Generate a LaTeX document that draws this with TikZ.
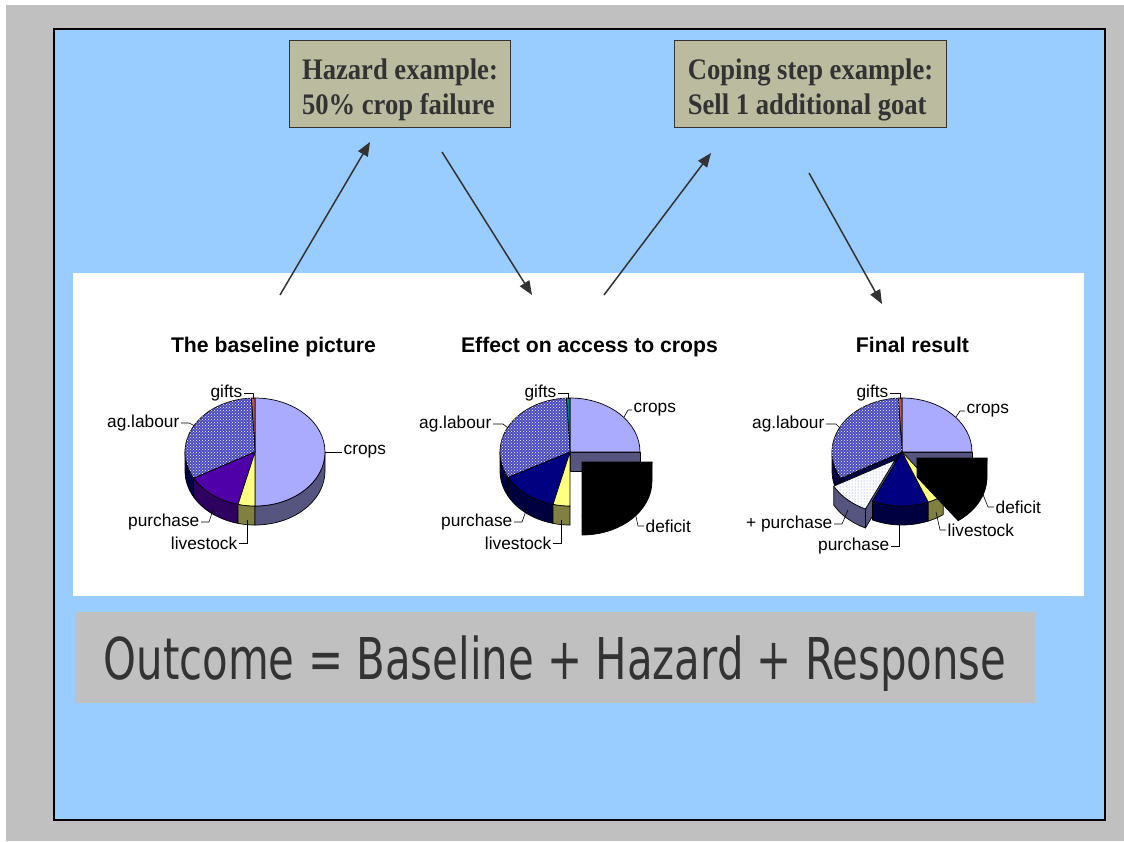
\documentclass[tikz,border=0pt]{standalone}
\usepackage{fontspec}
\setmainfont{Liberation Sans}
\newfontfamily\boxfont[FakeStretch=0.893]{Liberation Serif}
\newfontfamily\eqfont{DejaVu Sans}
\usetikzlibrary{arrows.meta, patterns, positioning}
\definecolor{slideblue}{HTML}{99CCFF}
\definecolor{pagegray}{HTML}{C0C0C0}
\definecolor{boxkhaki}{HTML}{BBBBA0}
\definecolor{inkgray}{HTML}{333333}
\definecolor{croptop}{HTML}{AAAAFF}
\definecolor{cropside}{HTML}{555580}
\definecolor{livtop}{HTML}{FFFF80}
\definecolor{livside}{HTML}{808040}
\definecolor{purptop}{HTML}{5000A8}
\definecolor{purpside}{HTML}{2E0060}
\definecolor{navytop}{HTML}{000080}
\definecolor{navyside}{HTML}{000040}
\definecolor{agblue}{HTML}{4A4AC0}
\definecolor{giftred}{HTML}{C05A50}
\definecolor{giftteal}{HTML}{008080}
\newcommand{\pietop}[4]{\path[slice,#4] (#1) -- ++(#2:70pt and 54pt)
  arc[start angle=#2, end angle=#3, x radius=70pt, y radius=54pt] -- cycle;}
\newcommand{\piewall}[4]{\path[slice,#4] (#1) ++(#2:70pt and 54pt)
  arc[start angle=#2, end angle=#3, x radius=70pt, y radius=54pt] -- ++(0,-19)
  arc[start angle=#3, end angle=#2, x radius=70pt, y radius=54pt] -- cycle;}
\newcommand{\pieface}[3]{\path[slice,#3] (#1) -- ++(#2:70pt and 54pt) -- ++(0,-19)
  -- ++(#2+180:70pt and 54pt) -- cycle;}
\newcommand{\boxstrut}{\rule{0pt}{33pt}}
\tikzset{
	slice/.style={draw=black, line width=0.7pt, line join=round}
}
\tikzset{
	agtop/.style={fill=agblue, postaction={pattern=crosshatch dots, pattern color=white}},
	extratop/.style={fill=white, postaction={pattern=dots, pattern color=blue!55}}
}
\tikzset{
	pielabel/.style={font=\fontsize{17.3}{20}\selectfont, inner sep=0pt, inner xsep=1.5pt},
	leader/.style={draw=black, line width=0.6pt},
	charttitle/.style={font=\bfseries\fontsize{21.2}{24}\selectfont, anchor=base}
}
\tikzset{
	notebox/.style={draw=inkgray, line width=1pt, fill=boxkhaki, text=inkgray, align=left,
			font=\boxfont\bfseries\fontsize{29.8}{35}\selectfont, inner xsep=13pt, minimum height=87pt},
	eqbox/.style={fill=pagegray, text=inkgray, minimum width=960pt, minimum height=91pt,
			text height=44pt, text depth=0pt, font=\eqfont\fontsize{57.6}{60}\selectfont},
	flowarrow/.style={draw=inkgray, line width=1.5pt, -{Triangle[length=14pt,width=11pt]}}
}
\begin{document}
\begin{tikzpicture}[x=1pt,y=1pt]

			\useasboundingbox (0,0) rectangle (1124,-841);
			\fill[white] (0,0) rectangle (1124,-841);
			\fill[pagegray] (6,-5) rectangle (1124,-841);
			\draw[line width=2pt, fill=slideblue] (54,-29) rectangle (1105,-820);
			\fill[white] (73,-273) rectangle (1084,-596);

			\node[notebox] (hazard) at (400,-83.5) {\boxstrut Hazard example:\\50\% crop failure};
			\node[notebox] (coping) at (810.5,-83.5) {\boxstrut Coping step example:\\Sell 1 additional goat};

			\node[charttitle] (t1) at (273.5,-352) {The baseline picture};
			\node[charttitle] (t2) at (589.5,-352) {Effect on access to crops};
			\node[charttitle] (t3) at (912.5,-352) {Final result};

			\node[eqbox] (outcome) at (555,-657.5) {\scalebox{0.727}[1]{Outcome = Baseline + Hazard + Response}};

			\begin{scope}
				\coordinate (baseup) at (280,-295);
				\coordinate (hazardin) at (370,-142);
				\coordinate (hazardout) at (442,-152);
				\coordinate (effectin) at (532,-295);
				\coordinate (effectup) at (604,-295);
				\coordinate (copein) at (711,-153);
				\coordinate (copeout) at (809,-173);
				\coordinate (finalin) at (882,-304);

				\draw[flowarrow] (baseup) -- (hazardin);
				\draw[flowarrow] (hazardout) -- (effectin);
				\draw[flowarrow] (effectup) -- (copein);
				\draw[flowarrow] (copeout) -- (finalin);
			\end{scope}

			\begin{scope}
				\coordinate (bc) at (255,-452);

				\piewall{bc}{180}{209}{fill=navyside}
				\piewall{bc}{209}{256}{fill=purpside}
				\piewall{bc}{256}{270}{fill=livside}
				\piewall{bc}{270}{360}{fill=cropside}
				\pietop{bc}{-90}{90}{fill=croptop}
				\pietop{bc}{90}{93}{fill=giftred}
				\pietop{bc}{93}{209}{agtop}
				\pietop{bc}{209}{256}{fill=purptop}
				\pietop{bc}{256}{270}{fill=livtop}

				\coordinate (bgiftsp) at (253,-399);
				\coordinate (bagp) at (195,-426);
				\coordinate (bcropsp) at (325,-452);
				\coordinate (bpurchp) at (213,-510);
				\coordinate (blivp) at (247,-520);

				\node[pielabel, anchor=east] (bgifts) at (244,-393) {gifts};
				\node[pielabel, anchor=east] (bag) at (181,-423) {ag.labour};
				\node[pielabel, anchor=west] (bcrops) at (342,-452) {crops};
				\node[pielabel, anchor=east] (bpurch) at (201,-522) {purchase};
				\node[pielabel, anchor=east] (bliv) at (239,-543) {livestock};

				\draw[leader] (bgifts.east) -| (bgiftsp);
				\draw[leader] (bag.east) -- ++(8,0) -- (bagp);
				\draw[leader] (bcropsp) -- (bcrops.west);
				\draw[leader] (bpurch.east) -- ++(8,0) -- (bpurchp);
				\draw[leader] (bliv.east) -| (blivp);
			\end{scope}

			\begin{scope}
				\coordinate (mc) at (570,-452);
				\coordinate (md) at (582,-462);

				\piewall{mc}{180}{208}{fill=navyside}
				\piewall{mc}{208}{256}{fill=navyside}
				\piewall{mc}{256}{270}{fill=livside}
				\pieface{mc}{0}{fill=cropside}
				\pietop{mc}{0}{90}{fill=croptop}
				\pietop{mc}{90}{93}{fill=giftteal}
				\pietop{mc}{93}{208}{agtop}
				\pietop{mc}{208}{256}{fill=navytop}
				\pietop{mc}{256}{270}{fill=livtop}
				\piewall{md}{270}{360}{fill=black}
				\pietop{md}{270}{360}{fill=black}

				\coordinate (mgiftsp) at (568,-399);
				\coordinate (magp) at (508,-428);
				\coordinate (mcropsp) at (624,-417);
				\coordinate (mpurchp) at (527,-508);
				\coordinate (mlivp) at (561,-520);
				\coordinate (mdefp) at (635,-512);

				\node[pielabel, anchor=east] (mgifts) at (558,-393) {gifts};
				\node[pielabel, anchor=east] (mag) at (493,-424) {ag.labour};
				\node[pielabel, anchor=west] (mcrops) at (632,-410) {crops};
				\node[pielabel, anchor=east] (mpurch) at (514,-522) {purchase};
				\node[pielabel, anchor=east] (mliv) at (553,-543) {livestock};
				\node[pielabel, anchor=west] (mdef) at (644,-526) {deficit};

				\draw[leader] (mgifts.east) -| (mgiftsp);
				\draw[leader] (mag.east) -- ++(10,0) -- (magp);
				\draw[leader] (mcropsp) -- ++(4,7) -- (mcrops.west);
				\draw[leader] (mpurch.east) -- ++(8,0) -- (mpurchp);
				\draw[leader] (mliv.east) -| (mlivp);
				\draw[leader] (mdef.west) -- ++(-6,0) -- (mdefp);
			\end{scope}

			\begin{scope}
				\coordinate (rc) at (902,-452);
				\coordinate (rp) at (895,-460);
				\coordinate (rd) at (917,-458);

				\piewall{rc}{180}{209}{fill=navyside}
				\pieface{rc}{209}{fill=navyside}
				\pieface{rc}{0}{fill=cropside}
				\pietop{rc}{0}{90}{fill=croptop}
				\pietop{rc}{90}{93}{fill=giftred}
				\pietop{rc}{93}{209}{agtop}
				\piewall{rp}{209}{245}{fill=cropside}
				\pieface{rp}{245}{fill=cropside}
				\pietop{rp}{209}{245}{extratop}
				\piewall{rc}{245}{292}{fill=navyside}
				\pietop{rc}{245}{292}{fill=navytop}
				\piewall{rc}{292}{306}{fill=livside}
				\pietop{rc}{292}{306}{fill=livtop}
				\pieface{rd}{306}{fill=black}
				\piewall{rd}{306}{360}{fill=black}
				\pietop{rd}{306}{360}{fill=black}

				\coordinate (rgiftsp) at (900,-399);
				\coordinate (ragp) at (840,-428);
				\coordinate (rcropsp) at (956,-417);
				\coordinate (rextrap) at (848,-510);
				\coordinate (rpurchp) at (899,-520);
				\coordinate (rlivp) at (936,-512);
				\coordinate (rdefp) at (982,-492);

				\node[pielabel, anchor=east] (rgifts) at (890,-393) {gifts};
				\node[pielabel, anchor=east] (rag) at (826,-424) {ag.labour};
				\node[pielabel, anchor=west] (rcrops) at (965,-411) {crops};
				\node[pielabel, anchor=east] (rextra) at (834,-524) {+ purchase};
				\node[pielabel, anchor=east] (rpurch) at (891,-546) {purchase};
				\node[pielabel, anchor=west] (rliv) at (946,-530) {livestock};
				\node[pielabel, anchor=west] (rdef) at (994,-507) {deficit};

				\draw[leader] (rgifts.east) -| (rgiftsp);
				\draw[leader] (rag.east) -- ++(10,0) -- (ragp);
				\draw[leader] (rcropsp) -- ++(4,6) -- (rcrops.west);
				\draw[leader] (rextra.east) -- ++(8,0) -- (rextrap);
				\draw[leader] (rpurch.east) -| (rpurchp);
				\draw[leader] (rliv.west) -- ++(-6,0) -- (rlivp);
				\draw[leader] (rdef.west) -- ++(-6,0) -- (rdefp);
			\end{scope}

		\end{tikzpicture}
\end{document}
